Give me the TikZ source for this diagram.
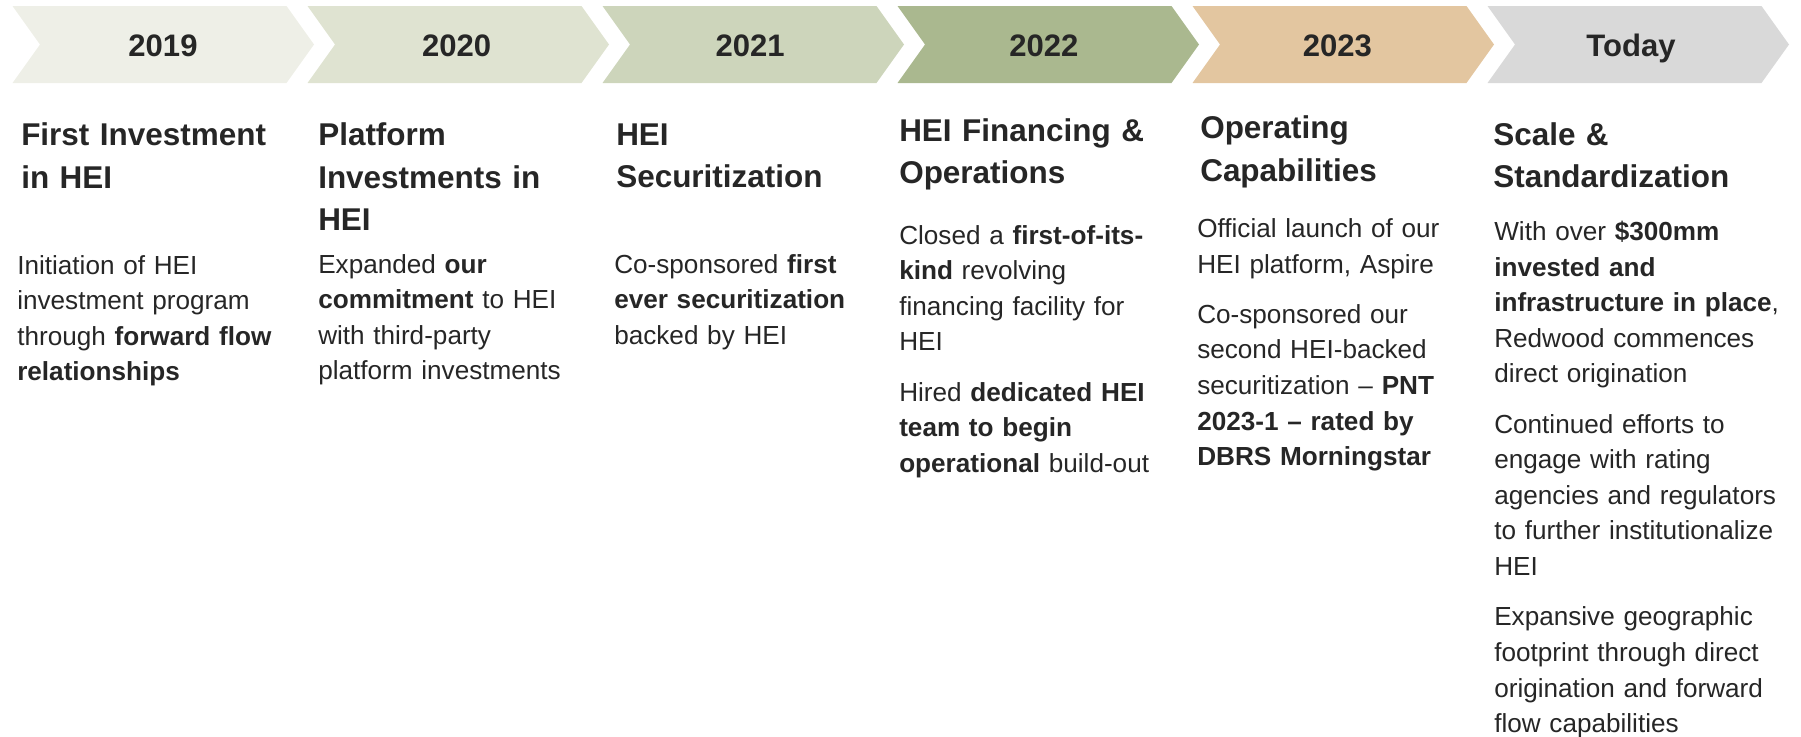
\documentclass[tikz,border=0pt]{standalone}
\usepackage{fontspec}
\setmainfont{Liberation Sans}

\definecolor{ink}{HTML}{262626}
\definecolor{c2019}{HTML}{EEEFE7}
\definecolor{c2020}{HTML}{DFE3D1}
\definecolor{c2021}{HTML}{CDD5BB}
\definecolor{c2022}{HTML}{AAB88F}
\definecolor{c2023}{HTML}{E3C6A0}
\definecolor{ctoday}{HTML}{D9D9D9}

\tikzset{
  year/.style={font=\fontsize{23.3}{28}\selectfont\bfseries, text=ink, anchor=base},
  head/.style={font=\fontsize{23.6}{31.9}\selectfont\bfseries, text=ink,
    anchor=base west, inner sep=0pt, text width=215pt, align=left},
  body/.style={font=\fontsize{19.6}{26.7}\selectfont, text=ink,
    anchor=base west, inner sep=0pt, text width=215pt, align=left},
}
\newcommand{\pgap}{\\[11pt]}

\begin{document}
\begin{tikzpicture}[x=0.75pt,y=-0.75pt]
\useasboundingbox (0,0) rectangle (1801,736);

% chevrons with the years
\foreach \c/\t [count=\i from 0] in {c2019/2019,c2020/2020,c2021/2021,c2022/2022,c2023/2023,ctoday/Today}{
  \fill[\c] (12.5+295*\i,6) -- ++(274,0) -- ++(27.5,38.5) -- ++(-27.5,38.5)
    -- ++(-274,0) -- ++(27.5,-38.5) -- cycle;
  \node[year] (y\i) at (163+293.6*\i,56) {\t};
}

% headings
\node[head] (t1) at (21,145.5) {First Investment\\in HEI};
\node[head] (t2) at (318,145.5) {Platform\\Investments in\\HEI};
\node[head] (t3) at (616,145) {HEI\\Securitization};
\node[head] (t4) at (899,141) {HEI Financing \&\\Operations};
\node[head] (t5) at (1200,138.5) {Operating\\Capabilities};
\node[head] (t6) at (1493,145) {Scale \&\\Standardization};

% text under each heading
\node[body] (b1) at (17,274) {Initiation of HEI\\investment program\\through \textbf{forward flow}\\\textbf{relationships}};
\node[body] (b2) at (318,273) {Expanded \textbf{our}\\\textbf{commitment} to HEI\\with third-party\\platform investments};
\node[body] (b3) at (614,273) {Co-sponsored \textbf{first}\\\textbf{ever securitization}\\backed by HEI};
\node[body] (b4) at (899,244) {Closed a \textbf{first-of-its-}\\\textbf{kind} revolving\\financing facility for\\HEI\pgap
  Hired \textbf{dedicated HEI}\\\textbf{team to begin}\\\textbf{operational} build-out};
\node[body] (b5) at (1197,237.5) {Official launch of our\\HEI platform, Aspire\pgap
  Co-sponsored our\\second HEI-backed\\securitization – \textbf{PNT}\\\textbf{2023-1 – rated by}\\\textbf{DBRS Morningstar}};
\node[body] (b6) at (1494,240.5) {With over \textbf{\$300mm}\\\textbf{invested and}\\\textbf{infrastructure in place},\\Redwood commences\\direct origination\pgap
  Continued efforts to\\engage with rating\\agencies and regulators\\to further institutionalize\\HEI\pgap
  Expansive geographic\\footprint through direct\\origination and forward\\flow capabilities};
\end{tikzpicture}
\end{document}
